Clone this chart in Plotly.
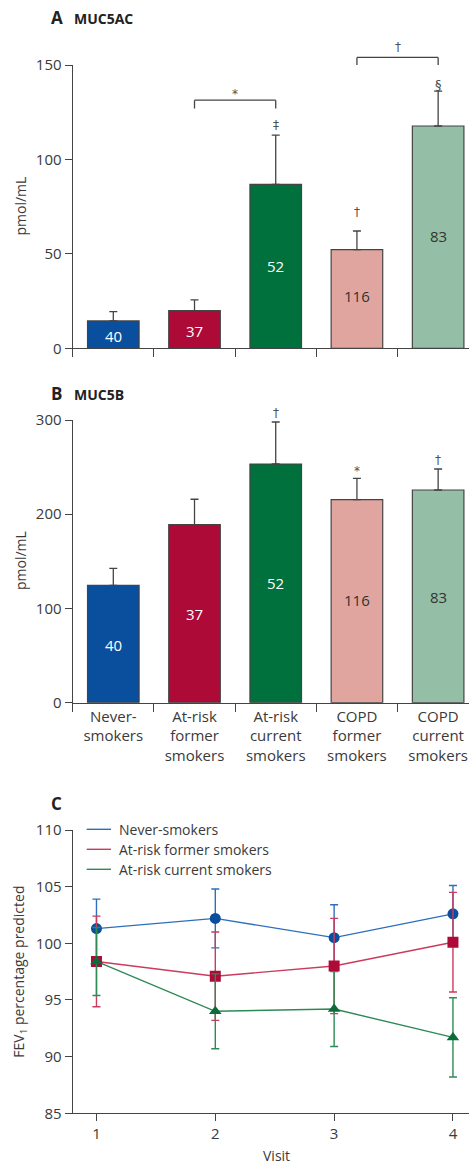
import plotly.graph_objects as go

# ---------------- data ----------------
categories = ["Never-<br>smokers", "At-risk<br>former<br>smokers", "At-risk<br>current<br>smokers",
              "COPD<br>former<br>smokers", "COPD<br>current<br>smokers"]
n_counts = [40, 37, 52, 116, 83]

muc5ac_mean = [14.5, 19.9, 86.8, 52.2, 117.7]
muc5ac_upper = [19.4, 25.6, 112.9, 62.1, 136.2]
muc5ac_n_pos = [6.5, 9.2, 43.7, 27.7, 59.6]
muc5ac_marks = [(2, "‡", 120.5), (3, "†", 69.7), (4, "§", 142.0)]
muc5ac_brackets = [(1, 2, 127.0, 131.4, "*", 137.0), (3, 4, 150.0, 154.0, "†", 161.5)]

muc5b_mean = [124.6, 188.9, 253.3, 215.5, 225.7]
muc5b_upper = [142.6, 215.9, 297.9, 238.1, 248.0]
muc5b_n_pos = [61.2, 93.8, 127.4, 109.0, 112.5]
muc5b_marks = [(2, "†", 311.4), (3, "*", 250.5), (4, "†", 261.8)]

visits = [1, 2, 3, 4]
fev_never = [101.3, 102.2, 100.5, 102.6]
fev_never_err = [2.6, 2.6, 2.9, 2.5]
fev_former = [98.4, 97.1, 98.0, 100.1]
fev_former_err = [4.0, 3.9, 4.2, 4.4]
fev_current = [98.4, 94.0, 94.2, 91.7]
fev_current_err = [3.0, 3.3, 3.3, 3.5]
series_names = ["Never-smokers", "At-risk former smokers", "At-risk current smokers"]

panel_letters = ["A", "B", "C"]
panel_names = ["MUC5AC", "MUC5B", ""]

# ---------------- styles ----------------
W, H = 469, 1165
FONT = "Open Sans"
SYMFONT = "DejaVu Sans"
AX = "#444444"
TXT = "#3a3a3a"
SYMCOL = "#505050"
SYMSHIFT = 5
bar_colors = ["#0a4f9e", "#ae0a38", "#00703c", "#e0a59e", "#94bfa6"]
n_label_colors = ["white", "white", "white", "#333333", "#333333"]
line_colors = ["#2d6fbb", "#cc3a5e", "#2e8a55"]
marker_colors = ["#0a4f9e", "#ae0a38", "#0b6b3a"]
marker_symbols = ["circle", "square", "triangle-up"]
title_rows_px = [17, 393, 803]


def py(px):
    return 1 - px / H


XL = 72.7 / W

fig = go.Figure()

panels = [
    ("x", "y", muc5ac_mean, muc5ac_upper, muc5ac_n_pos, 150),
    ("x2", "y2", muc5b_mean, muc5b_upper, muc5b_n_pos, 300),
]
annotations = []
shapes = []
for xa, ya, mean, upper, npos, ymax in panels:
    fig.add_trace(go.Bar(
        x=categories, y=mean, xaxis=xa, yaxis=ya, width=0.635,
        marker=dict(color=bar_colors, line=dict(color=AX, width=1.2)),
        error_y=dict(type="data", symmetric=False,
                     array=[u - m for u, m in zip(upper, mean)],
                     arrayminus=[0] * len(mean),
                     color=AX, thickness=1.3, width=4),
        showlegend=False, hoverinfo="skip"))
    for i, (c, n, p) in enumerate(zip(categories, n_counts, npos)):
        annotations.append(dict(x=c, y=p, xref=xa, yref=ya, text=str(n), showarrow=False,
                                font=dict(size=15, color=n_label_colors[i], family=FONT)))

# significance marks
for xa, ya, marks, ymax in [("x", "y", muc5ac_marks, 150), ("x2", "y2", muc5b_marks, 300)]:
    for idx, sym, yv in marks:
        annotations.append(dict(x=idx, y=yv / ymax, xref=xa, yref=ya + " domain", text=sym,
                                showarrow=False, yshift=SYMSHIFT,
                                font=dict(size=13 if sym == "§" else 12, color=SYMCOL,
                                          family=SYMFONT)))

for i0, i1, yleg, ytop, sym, ysym in muc5ac_brackets:
    for (xa0, ya0, xa1, ya1) in [(i0, yleg, i0, ytop), (i0, ytop, i1, ytop), (i1, ytop, i1, yleg)]:
        shapes.append(dict(type="line", xref="x", yref="y domain", x0=xa0, x1=xa1,
                           y0=ya0 / 150, y1=ya1 / 150, line=dict(color=AX, width=1.3)))
    annotations.append(dict(x=(i0 + i1) / 2, y=ysym / 150, xref="x", yref="y domain", text=sym,
                            showarrow=False, yshift=SYMSHIFT,
                            font=dict(size=12, color=SYMCOL, family=SYMFONT)))

# panel C
for name, vals, errs, lc, mc, ms in zip(series_names,
                                         [fev_never, fev_former, fev_current],
                                         [fev_never_err, fev_former_err, fev_current_err],
                                         line_colors, marker_colors, marker_symbols):
    fig.add_trace(go.Scatter(
        x=visits, y=vals, xaxis="x3", yaxis="y3", mode="lines+markers", name=name,
        line=dict(color=lc, width=1.4),
        marker=dict(symbol=ms, size=11, color=mc),
        error_y=dict(type="data", array=errs, color=lc, thickness=1.4, width=4),
        showlegend=False, hoverinfo="skip"))

# manual legend for C
for k, (name, lc) in enumerate(zip(series_names, line_colors)):
    yy = py(829.3 + 20 * k)
    shapes.append(dict(type="line", xref="paper", yref="paper", x0=86.7 / W, x1=111 / W,
                       y0=yy, y1=yy, line=dict(color=lc, width=1.4)))
    annotations.append(dict(x=116.5 / W, y=yy, xref="paper", yref="paper", text=name,
                            xanchor="left", yanchor="middle", showarrow=False,
                            font=dict(size=14, color=TXT, family=FONT)))

# panel titles (letter and name as separate texts)
for letter, sub, ypx in zip(panel_letters, panel_names, title_rows_px):
    annotations.append(dict(x=49 / W, y=py(ypx), xref="paper", yref="paper",
                            text="<b>%s</b>" % letter,
                            xanchor="left", yanchor="middle", showarrow=False,
                            font=dict(size=17, color="#222222", family=FONT)))
    if sub:
        annotations.append(dict(x=72 / W, y=py(ypx + 1), xref="paper", yref="paper",
                                text="<b>%s</b>" % sub,
                                xanchor="left", yanchor="middle", showarrow=False,
                                font=dict(size=14, color="#222222", family=FONT)))

# axis titles
for txt, ypx in [("pmol/mL", 206.5), ("pmol/mL", 561), ("FEV<sub>1</sub> percentage predicted", 971.7)]:
    annotations.append(dict(x=20 / W, y=py(ypx), xref="paper", yref="paper", text=txt,
                            textangle=-90, xanchor="center", yanchor="middle", showarrow=False,
                            font=dict(size=14, color=TXT, family=FONT)))
annotations.append(dict(x=276 / W, y=py(1155), xref="paper", yref="paper", text="Visit",
                        xanchor="center", yanchor="middle", showarrow=False,
                        font=dict(size=14, color=TXT, family=FONT)))

tickfont = dict(size=15, color=TXT, family=FONT)
common_y = dict(showgrid=False, zeroline=False, showline=True, linecolor=AX, linewidth=1.2,
                ticks="outside", ticklen=7, tickcolor=AX, tickwidth=1.2, tickfont=tickfont,
                automargin=False)
common_xcat = dict(type="category", showgrid=False, zeroline=False, showline=True, linecolor=AX,
                   linewidth=1.2, ticks="outside", ticklen=8, tickcolor=AX, tickwidth=1.2,
                   tickson="boundaries", range=[-0.5, 4.38], tickfont=tickfont,
                   categoryorder="array", categoryarray=categories, automargin=False)

fig.update_layout(
    template="none",
    width=W, height=H, margin=dict(l=0, r=0, t=0, b=0, pad=0, autoexpand=False),
    paper_bgcolor="white", plot_bgcolor="white",
    font=dict(family=FONT, color=TXT),
    showlegend=False,
    xaxis=dict(domain=[XL, 1], anchor="y", showticklabels=False, **common_xcat),
    yaxis=dict(domain=[py(348.3), py(65)], anchor="x", range=[0, 150],
               tickvals=[0, 50, 100, 150], **common_y),
    xaxis2=dict(domain=[XL, 1], anchor="y2", showticklabels=True, **common_xcat),
    yaxis2=dict(domain=[py(702.7), py(420)], anchor="x2", range=[0, 300],
                tickvals=[0, 100, 200, 300], **common_y),
    xaxis3=dict(domain=[XL, 1], anchor="y3", range=[0.8, 4.135], tickvals=visits,
                showgrid=False, zeroline=False, showline=True, linecolor=AX, linewidth=1.2,
                ticks="outside", ticklen=7, tickcolor=AX, tickwidth=1.2, tickfont=tickfont,
                automargin=False),
    yaxis3=dict(domain=[py(1113.3), py(830)], anchor="x3", range=[85, 110],
                tickvals=[85, 90, 95, 100, 105, 110], **common_y),
    annotations=annotations, shapes=shapes,
)

fig.write_html("out.html")
